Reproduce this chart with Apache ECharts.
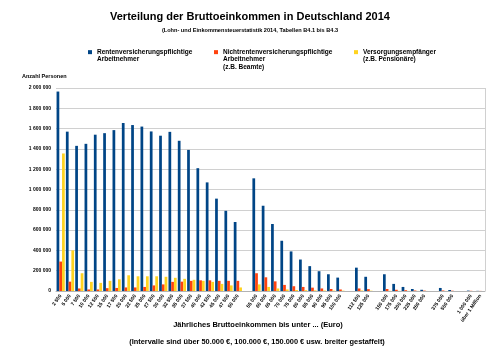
<!DOCTYPE html>
<html><head><meta charset="utf-8">
<script src="https://cdn.jsdelivr.net/npm/echarts@6/dist/echarts.min.js"></script>
<style>html,body{margin:0;padding:0;background:#fff}#c{width:500px;height:360px}</style>
</head><body><div id="c"></div>
<script>
const categories = ['2 500','5 000','7 500','10 000','12 500','15 000','17 500','20 000','22 500','25 000','27 500','30 000','32 500','35 000','37 500','40 000','42 500','45 000','47 500','50 000','',
 '55 000','60 000','65 000','70 000','75 000','80 000','85 000','90 000','95 000','100 000','',
 '112 500','125 000','',
 '150 000','175 000','200 000','225 000','250 000','',
 '375 000','500 000','',
 '1 000 000','über 1 Million'];
const rentenPflichtig = [1965000,1570000,1430000,1450000,1540000,1555000,1585000,1655000,1635000,1620000,1572000,1530000,1568000,1480000,1390000,1210000,1070000,910000,790000,680000,null,
 1110000,840000,660000,495000,390000,310000,245000,195000,165000,132000,null,
 230000,140000,null,
 165000,70000,40000,20000,12000,null,
 30000,10000,null,
 4000,1500];
const nichtRentenPflichtig = [290000,92000,25000,15000,15000,28000,30000,35000,35000,40000,55000,65000,90000,92000,100000,105000,105000,100000,100000,100000,null,
 175000,135000,95000,60000,47000,40000,33000,25000,20000,15000,null,
 25000,18000,null,
 20000,12000,8000,5000,4000,null,
 5000,3000,null,
 2000,1000];
const versorgung = [1355000,400000,175000,90000,80000,100000,115000,155000,145000,145000,145000,140000,130000,120000,110000,100000,90000,70000,55000,35000,null,
 65000,40000,25000,15000,10000,8000,6000,5000,4000,3000,null,
 5000,3000,null,
 2000,1500,1000,800,600,null,
 500,300,null,
 100,50];
const seriesNames = ['Rentenversicherungspflichtige\nArbeitnehmer','Nichtrentenversicherungspflichtige\nArbeitnehmer\n(z.B. Beamte)','Versorgungsempfänger\n(z.B. Pensionäre)'];
const colors = ['#004586','#ff420e','#ffd320'];

const fmt = v => String(v).replace(/\B(?=(\d{3})+(?!\d))/g,' ');
const chart = echarts.init(document.getElementById('c'));
const font = 'Liberation Sans, Arial, sans-serif';
const LH = 7.3;
function legendFor(name, left, lines){
  const h = LH*lines;
  return {top:48.5, left:left, padding:0, data:[name], itemWidth:4, itemHeight:h,
    icon:'path://M0,0L0,0M0,1.65L4,1.65L4,5.65L0,5.65Z M0,'+h+'L0,'+h,
    textStyle:{fontSize:6.5, fontWeight:'bold', color:'#000', fontFamily:font, lineHeight:LH}};
}
chart.setOption({
  animation:false,
  color:colors,
  textStyle:{fontFamily:font},
  title:{text:'Verteilung der Bruttoeinkommen in Deutschland 2014', left:'center', top:6,
    textStyle:{fontSize:11, fontWeight:'bold', color:'#000', fontFamily:font},
    subtext:'(Lohn- und Einkommensteuerstatistik 2014, Tabellen B4.1 bis B4.3', itemGap:5,
    subtextStyle:{fontSize:5.6, fontWeight:'bold', color:'#000', fontFamily:font}},
  legend:[
    legendFor(seriesNames[0], 88, 2),
    legendFor(seriesNames[1], 214, 3),
    legendFor(seriesNames[2], 354, 2)
  ],
  grid:{left:56, right:15, top:88, bottom:69},
  xAxis:{type:'category', data:categories,
    name:'Jährliches Bruttoeinkommen bis unter ... (Euro)', nameLocation:'middle', nameGap:30, nameMoveOverlap:false,
    nameTextStyle:{fontSize:7.5, fontWeight:'bold', color:'#000', fontFamily:font, padding:[0,25,0,0]},
    axisLine:{lineStyle:{color:'#b3b3b3'}},
    axisTick:{interval:0, length:3, lineStyle:{color:'#b3b3b3'}},
    axisLabel:{interval:0, rotate:55, fontSize:5, fontWeight:'bold', color:'#000', margin:4}},
  yAxis:{type:'value', min:0, max:2000000, interval:200000,
    name:'Anzahl Personen', nameLocation:'end', nameGap:9,
    nameTextStyle:{fontSize:5.5, fontWeight:'bold', color:'#000', align:'left', padding:[0,0,0,-34]},
    axisLine:{show:false}, axisTick:{show:false},
    splitLine:{lineStyle:{color:'#d0d0d0'}},
    axisLabel:{fontSize:5, fontWeight:'bold', color:'#000', margin:5, formatter:fmt}},
  graphic:[
    {type:'text', x:257, y:342, style:{text:'(Intervalle sind über 50.000 €, 100.000 €, 150.000 € usw. breiter gestaffelt)',
      font:'bold 7.4px '+font, fill:'#000', textAlign:'center', textVerticalAlign:'middle'}},
    {type:'line', shape:{x1:485.5,y1:88,x2:485.5,y2:291}, style:{stroke:'#d0d0d0'}}
  ],
  series:[
    {name:seriesNames[0], type:'bar', data:rentenPflichtig, barGap:'0%', barCategoryGap:'12%'},
    {name:seriesNames[1], type:'bar', data:nichtRentenPflichtig, barGap:'0%', barCategoryGap:'12%'},
    {name:seriesNames[2], type:'bar', data:versorgung, barGap:'0%', barCategoryGap:'12%'}
  ]
});
</script></body></html>
